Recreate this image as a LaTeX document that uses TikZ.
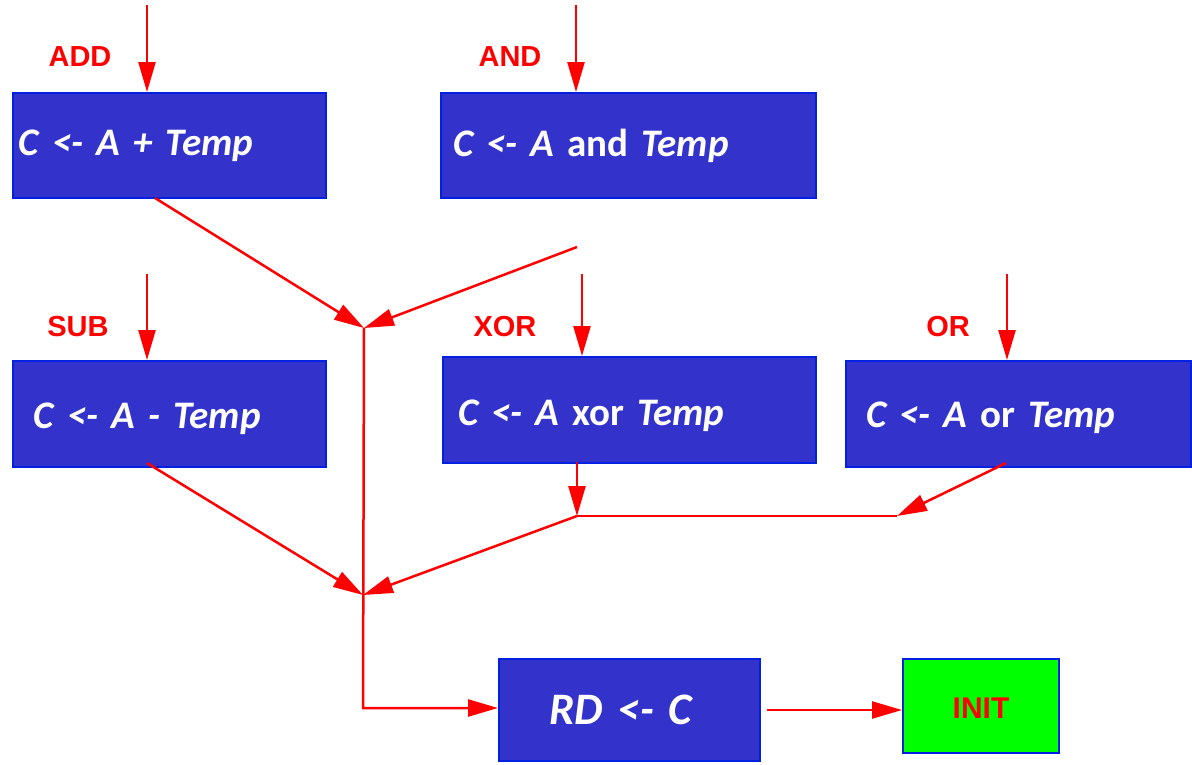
\documentclass[tikz,border=0pt]{standalone}
\usepackage{fontspec}
\usetikzlibrary{arrows.meta}
\newfontfamily\boxfont{Carlito}
\newfontfamily\lblfont{Liberation Sans}
\definecolor{boxfill}{HTML}{3333CC}
\definecolor{boxline}{HTML}{0022E0}
\definecolor{lred}{HTML}{FF0000}
\definecolor{lgreen}{HTML}{00FF00}
\newcommand{\lowered}[2]{\raisebox{-#1}[\height][\depth]{#2}}
\tikzset{
  opbox/.style={draw=boxline, fill=boxfill, line width=2pt, anchor=north west,
    align=left, text=white, inner ysep=0pt,
    font=\boxfont\bfseries\fontsize{39}{44}\selectfont},
  oplabel/.style={text=lred, font=\lblfont\bfseries\fontsize{29}{32}\selectfont, inner sep=0pt},
  flow/.style={draw=lred, line width=2.5pt, -{Triangle[length=30pt,width=17pt]}},
  plain/.style={draw=lred, line width=2.5pt},
}
\begin{document}
\begin{tikzpicture}[x=1pt,y=-1pt]
\useasboundingbox (0,0) rectangle (1192,764);
% boxes
\node[opbox, minimum width=313pt, minimum height=105pt, text width=301pt, inner xsep=6pt] (add) at (12,92) {\itshape C <- A + Temp};
\node[opbox, minimum width=375pt, minimum height=105pt, text width=351pt, inner xsep=12pt] (and) at (440,92) {\textit{C <- A} and \textit{Temp}};
\node[opbox, minimum width=313pt, minimum height=106pt, text width=271pt, inner xsep=21pt] (sub) at (12,360) {\lowered{5pt}{\itshape C <- A - Temp}};
\node[opbox, minimum width=373pt, minimum height=106pt, text width=343pt, inner xsep=15pt] (xor) at (442,356) {\lowered{6pt}{\textit{C <- A} xor \textit{Temp}}};
\node[opbox, minimum width=345pt, minimum height=106pt, text width=305pt, inner xsep=20pt] (or) at (845,360) {\lowered{4pt}{\textit{C <- A} or \textit{Temp}}};
\node[opbox, minimum width=261pt, minimum height=102pt, text width=161pt, inner xsep=50pt,
  font=\boxfont\bfseries\fontsize{45}{50}\selectfont] (rd) at (498,658) {\itshape RD <- C};
\node[draw=boxline, fill=lgreen, line width=2pt, anchor=north west, minimum width=156pt, minimum height=94pt,
  text=lred, font=\lblfont\bfseries\fontsize{30}{32}\selectfont] (init) at (902,658) {\lowered{2pt}{INIT}};
% labels
\node[oplabel] (ladd) at (80,57) {ADD};
\node[oplabel] (land) at (510,57) {AND};
\node[oplabel] (lsub) at (78,327) {SUB};
\node[oplabel] (lxor) at (505,327) {XOR};
\node[oplabel] (lor) at (948,327) {OR};
% coordinates
\coordinate (addTop) at (147,5);
\coordinate (andTop) at (576,5);
\coordinate (subTop) at (147,274);
\coordinate (xorTop) at (582,274);
\coordinate (orTop) at (1007,274);
\coordinate (addOut) at (155,198);
\coordinate (andStub) at (577,247);
\coordinate (J1) at (364,328);
\coordinate (J2) at (363,595);
\coordinate (subOut) at (147,463);
\coordinate (xorOut) at (577,462);
\coordinate (J3) at (577,516);
\coordinate (orOut) at (1006,463);
\coordinate (orIn) at (897,516);
\coordinate (corner) at (363,708);
% connectors
\draw[flow] (addTop) -- (addTop |- add.north);
\draw[flow] (andTop) -- (andTop |- and.north);
\draw[flow] (subTop) -- (subTop |- sub.north);
\draw[flow] (xorTop) -- (xorTop |- xor.north);
\draw[flow] (orTop) -- (orTop |- or.north);
\draw[flow] (addOut) -- (J1);
\draw[flow] (andStub) -- (J1);
\draw[flow] (subOut) -- (J2);
\draw[flow] (xorOut) -- (J3);
\draw[flow] (orOut) -- (orIn);
\draw[plain] (J3) -- (orIn);
\draw[flow] (J3) -- (J2);
\draw[flow] (J1) -- (corner) -- (corner -| rd.west);
\draw[flow, shorten <=6pt] (rd.east |- 0,710) -- (init.west |- 0,710);
\end{tikzpicture}
\end{document}
